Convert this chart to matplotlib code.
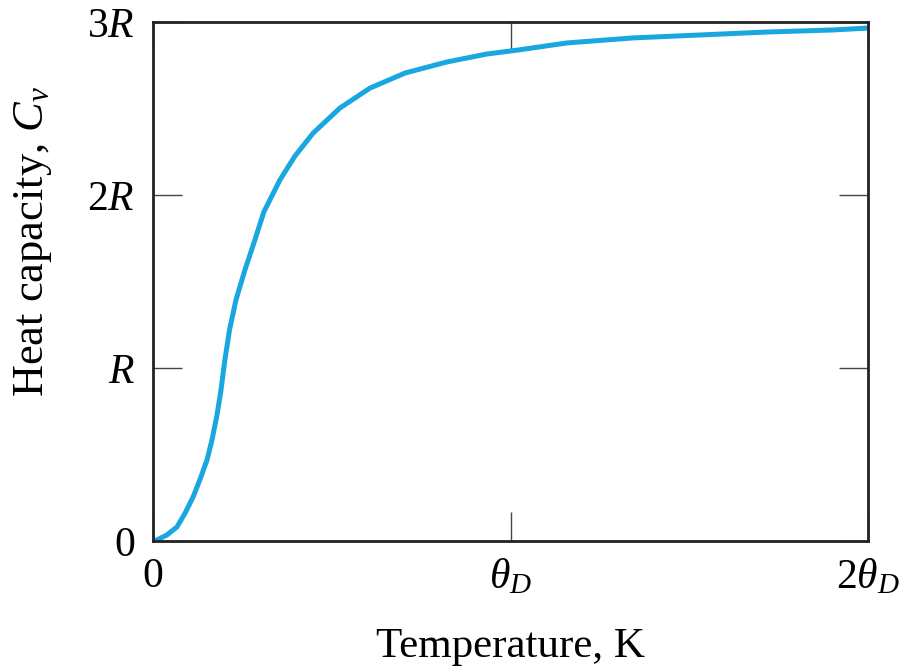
import matplotlib
matplotlib.use("Agg")
import matplotlib.pyplot as plt

# Curve: T in units of theta_D, Cv in units of R
T_THETA = [0.000, 0.011, 0.039, 0.067, 0.090, 0.112, 0.131, 0.151, 0.165, 0.178,
           0.189, 0.201, 0.214, 0.232, 0.257, 0.285, 0.310, 0.355, 0.397, 0.448,
           0.523, 0.607, 0.705, 0.822, 0.934, 1.021, 1.158, 1.343, 1.530, 1.717,
           1.902, 2.000]
CV_R = [0.000, 0.006, 0.035, 0.081, 0.162, 0.254, 0.353, 0.468, 0.584, 0.717,
        0.855, 1.046, 1.220, 1.393, 1.566, 1.740, 1.902, 2.087, 2.225, 2.358,
        2.503, 2.618, 2.705, 2.769, 2.815, 2.838, 2.879, 2.908, 2.925, 2.942,
        2.954, 2.965]

X_TICKS = [0, 1, 2]
X_LABELS = ["0", r"$\theta_D$", r"2$\theta_D$"]
Y_TICKS = [0, 1, 2, 3]
Y_LABELS = ["0", r"$R$", r"2$R$", r"3$R$"]

plt.rcParams["font.family"] = ["Liberation Serif", "DejaVu Serif"]
plt.rcParams["mathtext.fontset"] = "custom"
plt.rcParams["mathtext.rm"] = "Liberation Serif"
plt.rcParams["mathtext.it"] = "Liberation Serif:italic"

fig = plt.figure(figsize=(9.02, 6.70), dpi=100)
ax = fig.add_axes([153 / 902, 129 / 670, 715 / 902, 519 / 670])

ax.plot(T_THETA, CV_R, color="#1aa7e0", linewidth=3.6,
        solid_capstyle="round", solid_joinstyle="round")

ax.set_xlim(0, 2)
ax.set_ylim(0, 3)
ax.set_xticks(X_TICKS, X_LABELS)
ax.set_yticks(Y_TICKS, Y_LABELS)
ax.tick_params(direction="in", length=21, width=1.0, color="#444444",
               labelsize=30, top=True, right=True)
ax.tick_params(axis="x", pad=12)
ax.tick_params(axis="y", pad=13)
for s in ax.spines.values():
    s.set_linewidth(2.0)
    s.set_color("#222222")

ax.set_xlabel("Temperature, K", fontsize=31, labelpad=22)
ax.set_ylabel(r"Heat capacity, $C_v$", fontsize=32)
ax.yaxis.set_label_coords(-0.138, 0.578)

fig.savefig("out.png", dpi=100)
